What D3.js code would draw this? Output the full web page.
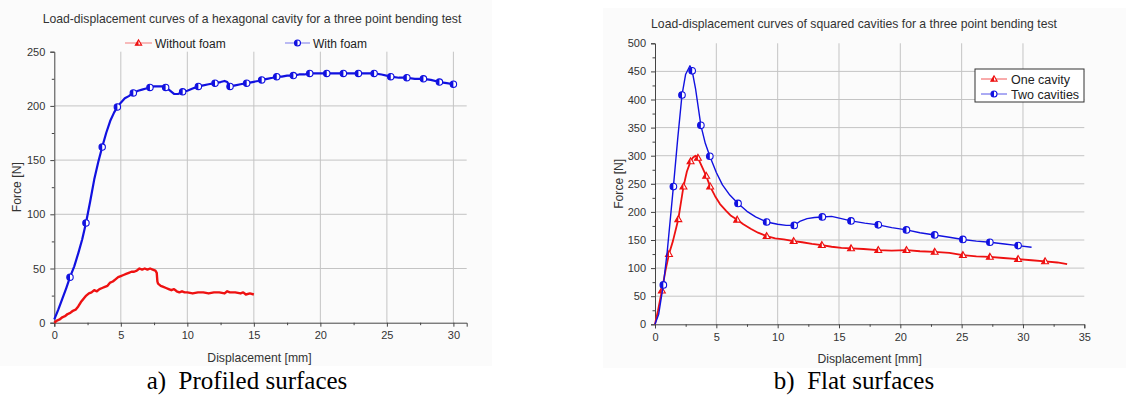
<!DOCTYPE html>
<html>
<head>
<meta charset="utf-8">
<script src="https://cdn.jsdelivr.net/npm/d3@7"></script>
<style>
  html, body { margin: 0; padding: 0; background: #ffffff; }
  svg { display: block; }
</style>
</head>
<body>
<svg id="chart" width="1126" height="399"></svg>
<script>
// ---------------- DATA ----------------
// Panel a) Profiled surfaces (hexagonal cavity)
const aTitle = "Load-displacement curves of a hexagonal cavity for a three point bending test";
const aCaption = "a)  Profiled surfaces";
const aSeriesNames = ["Without foam", "With foam"];
const aXTicks = [0, 5, 10, 15, 20, 25, 30];
const aYTicks = [0, 50, 100, 150, 200, 250];

const aNoFoamX = [0,0.2,0.4,0.6,0.8,1.0,1.2,1.4,1.6,1.8,2.0,2.2,2.4,2.6,2.8,3.0,3.2,3.4,3.6,3.8,4.0,4.2,4.4,4.6,4.8,5.0,5.2,5.4,5.6,5.8,6.0,6.2,6.4,6.6,6.8,7.0,7.2,7.4,7.6,7.7,7.75,7.8,8.0,8.2,8.4,8.6,8.8,9.0,9.2,9.4,9.6,9.8,10.0,10.4,10.8,11.2,11.6,12.0,12.4,12.8,13.0,13.2,13.6,14.0,14.2,14.4,14.7,15.0];
const aNoFoamY = [0,2,3,5,6,8,9,11,12,15,19,22,25,27,28,30,29,31,32,33,34,37,38,40,42,43,44,45,46,47,47,48,50,49,50,49,50,49,48,46,38,36,34,33,32,31,30,31,29,28,29,28,28,27,28,28,27,28,28,27,29,28,28,27,28,26,27,26];

const aFoamX = [0,0.3,0.6,0.9,1.18,1.5,1.8,2.1,2.38,2.7,3.0,3.3,3.6,3.9,4.2,4.5,4.74,5.0,5.3,5.6,5.94,6.3,6.6,6.9,7.19,7.5,7.8,8.1,8.37,8.7,9.0,9.3,9.65,10.0,10.4,10.83,11.2,11.6,12.08,12.5,12.8,13.0,13.21,13.6,14.0,14.46,14.9,15.3,15.59,16.0,16.4,16.72,17.1,17.5,17.97,18.4,18.8,19.2,19.6,20.0,20.48,21.0,21.73,22.3,22.86,23.4,24.04,24.6,25.29,25.9,26.5,27.1,27.75,28.3,28.95,29.5,30.0];
const aFoamY = [3,12,22,32,42,52,64,77,92,112,132,148,162,175,186,194,199,203,207,209,212,214,215,216,217,218,218,218,217,214,211,211,213,214,216,218,219,220,221,222,223,222,218,219,220,221,222,223,224,225,226,227,227,228,228,229,229,230,230,230,230,230,230,230,230,230,230,229,227,226,226,225,225,224,222,221,220];
const aFoamMarkX = [1.18,2.38,3.6,4.74,5.94,7.19,8.37,9.65,10.83,12.08,13.21,14.46,15.59,16.72,17.97,19.2,20.48,21.73,22.86,24.04,25.29,26.5,27.75,28.95,30.0];
const aFoamMarkY = [42,92,162,199,212,217,217,213,218,221,218,221,224,227,228,230,230,230,230,230,227,226,225,222,220];

// Panel b) Flat surfaces (squared cavities)
const bTitle = "Load-displacement curves of squared cavities for a three point bending test";
const bCaption = "b)  Flat surfaces";
const bSeriesNames = ["One cavity", "Two cavities"];
const bXTicks = [0, 5, 10, 15, 20, 25, 30, 35];
const bYTicks = [0, 50, 100, 150, 200, 250, 300, 350, 400, 450, 500];

const bOneX = [0,0.25,0.56,0.85,1.14,1.46,1.9,2.32,2.6,2.9,3.1,3.3,3.5,3.8,4.17,4.5,4.9,5.3,5.8,6.2,6.7,7.2,7.8,8.4,9.1,9.8,10.5,11.3,12.0,12.8,13.6,14.4,15.2,15.98,17.0,18.2,19.3,20.5,21.6,22.8,24.0,25.1,26.2,27.3,28.4,29.6,30.7,31.8,32.8,33.6];
const bOneY = [0,25,60,95,125,148,187,245,272,290,297,300,296,282,264,245,228,214,202,193,186,178,170,163,157,153,151,148,146,143,141,138,136,135,134,132,131,132,130,129,127,123,121,120,118,116,114,112,110,107];
const bOneMarkX = [0.56,1.14,1.9,2.32,2.9,3.5,4.17,4.5,6.7,9.1,11.3,13.6,15.98,18.2,20.5,22.8,25.1,27.3,29.6,31.8];
const bOneMarkY = [60,125,187,245,290,296,264,245,186,157,148,141,135,132,132,129,123,120,116,112];

const bTwoX = [0,0.3,0.68,1.0,1.5,1.85,2.2,2.5,2.85,3.03,3.3,3.74,4.1,4.47,5.0,5.5,6.1,6.77,7.5,8.2,9.1,10.0,10.7,11.35,11.8,12.4,13.0,13.64,14.4,15.2,15.98,17.1,18.2,19.3,20.5,21.6,22.8,24.0,25.1,26.2,27.3,28.5,29.6,30.7];
const bTwoY = [0,18,70,130,245,330,408,445,460,451,420,354,322,299,270,248,230,215,201,191,182,178,176,176,183,188,190,191,192,188,184,180,177,172,168,163,159,155,151,148,146,143,140,137];
const bTwoMarkX = [0.68,1.5,2.2,3.03,3.74,4.47,6.77,9.1,11.35,13.64,15.98,18.2,20.5,22.8,25.1,27.3,29.6];
const bTwoMarkY = [70,245,408,451,354,299,215,182,176,191,184,177,168,159,151,146,140];

// ---------------- DRAW ----------------
const RED = "#ee1111";
const BLUE = "#1111e0";
const svg = d3.select("#chart");
const FONT = "Arial, 'Liberation Sans', sans-serif";

function zip(xs, ys) { return xs.map((x, i) => ({ x: x, y: ys[i] })); }

function halfCircle(g, cx, cy, r, color) {
  g.append("circle").attr("cx", cx).attr("cy", cy).attr("r", r)
    .attr("fill", "#ffffff").attr("stroke", color).attr("stroke-width", 1.1);
  g.append("path")
    .attr("d", `M${cx},${cy - r} A${r},${r} 0 0 0 ${cx},${cy + r} Z`)
    .attr("fill", color);
}
function halfTriangle(g, cx, cy, r, color) {
  const h = r * 1.8, w = r * 1.05;
  const top = cy - h * 0.6, bot = cy + h * 0.4;
  g.append("path").attr("d", `M${cx},${top} L${cx + w},${bot} L${cx - w},${bot} Z`)
    .attr("fill", "#ffffff").attr("stroke", color).attr("stroke-width", 1.1);
  g.append("path").attr("d", `M${cx},${top} L${cx},${bot} L${cx - w},${bot} Z`)
    .attr("fill", color);
}

function panel(cfg) {
  const x = d3.scaleLinear().domain(cfg.xDomain).range(cfg.xRange);
  const y = d3.scaleLinear().domain(cfg.yDomain).range(cfg.yRange);
  const g = svg.append("g");

  g.append("rect").attr("x", cfg.bg[0]).attr("y", cfg.bg[1]).attr("width", cfg.bg[2]).attr("height", cfg.bg[3])
    .attr("fill", "#fbfbfb");

  const [x0, x1] = cfg.xRange;
  const [yb, yt] = cfg.yRange;

  // grid
  g.append("g").selectAll("line").data(cfg.yTicks.filter(v => v > 0 && v < cfg.yDomain[1]))
    .join("line").attr("x1", x0).attr("x2", x1).attr("y1", d => y(d)).attr("y2", d => y(d))
    .attr("stroke", "#c4c4c4").attr("stroke-width", 1);
  g.append("g").selectAll("line").data(cfg.xTicks.filter(v => v > 0 && v < cfg.xDomain[1]))
    .join("line").attr("y1", yb).attr("y2", yt).attr("x1", d => x(d)).attr("x2", d => x(d))
    .attr("stroke", "#c4c4c4").attr("stroke-width", 1);

  // axes
  const minorX = d3.range(0, cfg.xDomain[1] + 0.001, 2.5).filter(v => v % 5 !== 0);
  const minorY = d3.range(0, cfg.yDomain[1] + 0.001, 25).filter(v => v % 50 !== 0);

  g.append("g").attr("transform", `translate(0,${yb})`)
    .call(d3.axisBottom(x).tickValues(cfg.xTicks).tickSize(4).tickPadding(5).tickFormat(d3.format("d")));
  g.append("g").attr("transform", `translate(0,${yb})`)
    .call(d3.axisBottom(x).tickValues(minorX).tickSize(2.5).tickFormat(""))
    .call(a => a.select(".domain").remove());
  g.append("g").attr("transform", `translate(${x0},0)`)
    .call(d3.axisLeft(y).tickValues(cfg.yTicks).tickSize(4).tickPadding(5).tickFormat(d3.format("d")));
  g.append("g").attr("transform", `translate(${x0},0)`)
    .call(d3.axisLeft(y).tickValues(minorY).tickSize(2.5).tickFormat(""))
    .call(a => a.select(".domain").remove());

  g.selectAll(".domain").attr("stroke", "#444");
  g.selectAll(".tick line").attr("stroke", "#444");
  g.selectAll(".tick text").attr("font-family", FONT).attr("font-size", 11).attr("fill", "#333");

  // series
  const line = d3.line().x(d => x(d.x)).y(d => y(d.y));
  cfg.series.forEach(s => {
    g.append("path").datum(zip(s.xs, s.ys)).attr("d", line)
      .attr("fill", "none").attr("stroke", s.color).attr("stroke-width", s.width)
      .attr("stroke-linejoin", "round");
    const mg = g.append("g");
    zip(s.mx, s.my).forEach(p => {
      if (s.marker === "circle") halfCircle(mg, x(p.x), y(p.y), s.r, s.color);
      else halfTriangle(mg, x(p.x), y(p.y), s.r, s.color);
    });
  });

  // title
  g.append("text").attr("x", cfg.titlePos[0]).attr("y", cfg.titlePos[1]).attr("text-anchor", "middle")
    .attr("font-family", FONT).attr("font-size", 12.2).attr("fill", "#333").text(cfg.title);
  // axis labels
  g.append("text").attr("x", (x0 + x1) / 2 + cfg.xLabelDx).attr("y", cfg.xLabelY).attr("text-anchor", "middle")
    .attr("font-family", FONT).attr("font-size", 12.2).attr("fill", "#333").text("Displacement [mm]");
  g.append("text").attr("transform", `translate(${cfg.yLabelX},${(yb + yt) / 2}) rotate(-90)`)
    .attr("text-anchor", "middle").attr("font-family", FONT).attr("font-size", 12.2).attr("fill", "#333")
    .text("Force [N]");
  // caption
  svg.append("text").attr("x", cfg.captionPos[0]).attr("y", cfg.captionPos[1]).attr("text-anchor", "middle")
    .attr("font-family", "'Liberation Serif', 'Times New Roman', serif").attr("font-size", 25)
    .attr("fill", "#000").attr("xml:space", "preserve").style("white-space", "pre").text(cfg.caption);

  return g;
}

// Panel a
const ga = panel({
  bg: [0, 0, 492, 366],
  xDomain: [0, 31], xRange: [54.3, 466.7],
  yDomain: [0, 250], yRange: [322.7, 51.7],
  xTicks: aXTicks, yTicks: aYTicks,
  title: aTitle, titlePos: [252, 23],
  xLabelY: 362, xLabelDx: -1, yLabelX: 21,
  caption: aCaption, captionPos: [247, 389],
  series: [
    { xs: aNoFoamX, ys: aNoFoamY, color: RED, width: 2.4, mx: [], my: [], marker: "tri", r: 3 },
    { xs: aFoamX, ys: aFoamY, color: BLUE, width: 2.2, mx: aFoamMarkX, my: aFoamMarkY, marker: "circle", r: 3.2 }
  ]
});
// legend a (horizontal, above plot)
(function () {
  const lg = ga.append("g");
  const items = [
    { name: aSeriesNames[0], color: RED, m: "tri", x1: 125, x2: 152, tx: 155 },
    { name: aSeriesNames[1], color: BLUE, m: "circle", x1: 285, x2: 310, tx: 313 }
  ];
  items.forEach(it => {
    const yy = 43;
    lg.append("line").attr("x1", it.x1).attr("x2", it.x2).attr("y1", yy).attr("y2", yy)
      .attr("stroke", it.color).attr("stroke-width", 1).attr("opacity", 0.55);
    if (it.m === "circle") halfCircle(lg, (it.x1 + it.x2) / 2, yy, 3, it.color);
    else halfTriangle(lg, (it.x1 + it.x2) / 2, yy, 3, it.color);
    lg.append("text").attr("x", it.tx).attr("y", yy + 4.5).attr("font-family", FONT).attr("font-size", 12)
      .attr("fill", "#222").text(it.name);
  });
})();

// Panel b
const gb = panel({
  bg: [603, 8, 523, 360],
  xDomain: [0, 35], xRange: [655, 1084.3],
  yDomain: [0, 500], yRange: [324.3, 43.3],
  xTicks: bXTicks, yTicks: bYTicks,
  title: bTitle, titlePos: [854, 28],
  xLabelY: 363, xLabelDx: 0, yLabelX: 623,
  caption: bCaption, captionPos: [854, 389],
  series: [
    { xs: bOneX, ys: bOneY, color: RED, width: 1.8, mx: bOneMarkX, my: bOneMarkY, marker: "tri", r: 3.3 },
    { xs: bTwoX, ys: bTwoY, color: BLUE, width: 1.4, mx: bTwoMarkX, my: bTwoMarkY, marker: "circle", r: 3.3 }
  ]
});
// legend b (boxed, top right)
(function () {
  const lg = gb.append("g");
  lg.append("rect").attr("x", 975).attr("y", 69).attr("width", 109).attr("height", 33)
    .attr("fill", "#ffffff").attr("stroke", "#333").attr("stroke-width", 1);
  const items = [
    { name: bSeriesNames[0], color: RED, m: "tri", y: 79 },
    { name: bSeriesNames[1], color: BLUE, m: "circle", y: 94 }
  ];
  items.forEach(it => {
    lg.append("line").attr("x1", 981).attr("x2", 1007).attr("y1", it.y).attr("y2", it.y)
      .attr("stroke", it.color).attr("stroke-width", 1).attr("opacity", 0.7);
    if (it.m === "circle") halfCircle(lg, 994, it.y, 3, it.color);
    else halfTriangle(lg, 994, it.y, 3, it.color);
    lg.append("text").attr("x", 1011).attr("y", it.y + 4.5).attr("font-family", FONT).attr("font-size", 12.5)
      .attr("fill", "#222").text(it.name);
  });
})();
</script>
</body>
</html>
